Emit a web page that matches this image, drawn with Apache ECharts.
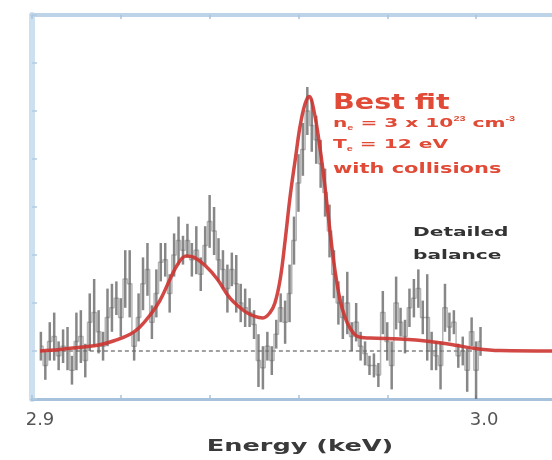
<!DOCTYPE html>
<html>
<head>
<meta charset="utf-8">
<script src="https://cdn.jsdelivr.net/npm/echarts@6/dist/echarts.min.js"></script>
<style>html,body{margin:0;padding:0;background:#fff;}#c{width:552px;height:460px;}</style>
</head>
<body>
<div id="c"></div>
<script>
// ---- data ----
const energy = [
  2.902,2.903,2.904,2.905,2.906,2.907,2.908,2.909,2.910,2.911,
  2.912,2.913,2.914,2.915,2.916,2.917,2.918,2.919,2.920,2.921,
  2.922,2.923,2.924,2.925,2.926,2.927,2.928,2.929,2.930,2.931,
  2.932,2.933,2.934,2.935,2.936,2.937,2.938,2.939,2.940,2.941,
  2.942,2.943,2.944,2.945,2.946,2.947,2.948,2.949,2.950,2.951,
  2.952,2.953,2.954,2.955,2.956,2.957,2.958,2.959,2.960,2.961,
  2.962,2.963,2.964,2.965,2.966,2.967,2.968,2.969,2.970,2.971,
  2.972,2.973,2.974,2.975,2.976,2.977,2.978,2.979,2.980,2.981,
  2.982,2.983,2.984,2.985,2.986,2.987,2.988,2.989,2.990,2.991,
  2.992,2.993,2.994,2.995,2.996,2.997,2.998,2.999,3.000,3.001
];
const counts = [
  0.1,-0.3,0.2,0.3,-0.1,0.1,0.05,-0.4,0.2,0.3,
  -0.2,0.6,0.8,0.4,0.1,0.7,0.9,1.1,0.7,1.5,
  1.4,0.1,0.7,1.4,1.7,0.6,1.2,1.85,1.9,1.2,
  2.0,2.3,2.1,2.3,1.9,2.1,1.6,2.2,2.7,2.5,
  1.9,1.7,1.3,1.7,1.4,1.0,0.9,0.8,0.55,-0.2,
  -0.35,0.1,-0.2,0.35,0.9,0.6,1.2,2.3,3.5,4.2,
  5.0,4.7,4.4,3.9,3.3,2.5,1.6,1.0,0.7,1.0,
  0.3,0.6,0.1,-0.05,-0.3,-0.3,-0.5,0.8,0.2,-0.3,
  1.0,0.6,0.3,0.9,1.1,1.3,0.7,0.7,0.0,-0.1,
  -0.3,0.9,0.5,0.6,-0.1,0.0,-0.4,0.4,-0.4,0.2
];
const errors = [
  0.3,0.3,0.4,0.5,0.3,0.35,0.45,0.3,0.6,0.55,
  0.35,0.6,0.7,0.45,0.3,0.6,0.5,0.35,0.4,0.6,
  0.7,0.3,0.5,0.55,0.55,0.35,0.5,0.4,0.35,0.4,
  0.45,0.5,0.3,0.35,0.35,0.5,0.35,0.4,0.55,0.5,
  0.45,0.4,0.5,0.35,0.6,0.4,0.4,0.3,0.3,0.55,
  0.45,0.3,0.3,0.3,0.3,0.45,0.6,0.5,0.6,0.55,
  0.5,0.55,0.5,0.5,0.5,0.55,0.5,0.45,0.45,0.65,
  0.3,0.4,0.3,0.25,0.2,0.25,0.25,0.45,0.4,0.5,
  0.55,0.3,0.35,0.4,0.4,0.4,0.35,0.9,0.4,0.3,
  0.5,0.5,0.3,0.25,0.25,0.3,0.45,0.3,0.6,0.3
];
const fitEnergy = [
  2.9018,2.9063,2.9108,2.9153,2.9187,2.9221,2.9243,2.9266,2.9288,2.9311,
  2.9329,2.9347,2.9365,2.9390,2.9417,2.9446,2.9480,2.9502,2.9520,2.9536,
  2.9547,2.9559,2.9570,2.9581,2.9593,2.9604,2.9615,2.9624,2.9635,2.9649,
  2.9660,2.9671,2.9682,2.9694,2.9705,2.9716,2.9734,2.9761,2.9829,2.9896,
  2.9953,3.0000,3.0054,3.0180
];
const fitValue = [
  0.0,0.03,0.08,0.13,0.22,0.35,0.5,0.75,1.05,1.5,
  1.82,1.98,1.95,1.78,1.5,1.1,0.82,0.72,0.69,0.8,
  1.0,1.5,2.3,3.2,4.0,4.7,5.15,5.3,5.0,4.2,
  3.4,2.5,1.7,1.05,0.7,0.48,0.3,0.27,0.25,0.2,
  0.12,0.05,0.01,0.0
];
const baselineEnergy = [2.902, 3.0];
const baselineValue = [0, 0];
const xTickValues = [2.9, 3.0];
const xTickLabels = ['2.9', '3.0'];
const xAxisTitle = 'Energy (keV)';
const fitTitle = 'Best fit';
const fitLines = ['{t|n}{sub|e}{t| = 3 x 10}{sup|23}{t| cm}{sup|-3}', '{t|T}{sub|e}{t| = 12 eV}', '{t|with collisions}'];
const otherLabel = ['Detailed', 'balance'];

// ---- chart ----
const chart = echarts.init(document.getElementById('c'), null, {renderer: 'canvas'});
const zip = (a, b) => a.map((v, i) => [v, b[i]]);
const barData = energy.map((e, i) => [e, counts[i] - errors[i], counts[i] + errors[i]]);
const axisBlue = '#bdd3e8';
const red = '#e04a36';

const baseX = {
  type: 'value', min: 2.9, max: 3.018, interval: 0.02,
  splitLine: {show: false},
  axisTick: {show: true, inside: true, length: 4, lineStyle: {color: '#a9c3dc', width: 1.5}}
};

chart.setOption({
  animation: false,
  backgroundColor: '#fff',
  grid: {left: 32, right: -4, top: 15, bottom: 61, outerBoundsMode: 'none', containLabel: false},
  xAxis: [
    Object.assign({}, baseX, {
      position: 'bottom',
      axisLine: {show: true, onZero: false, lineStyle: {color: '#a6c2dc', width: 3}},
      axisLabel: {
        showMaxLabel: false, margin: 12, padding: [0, 0, 0, 16],
        color: '#555', fontSize: 18, fontFamily: 'DejaVu Sans',
        formatter: v => {
          for (let i = 0; i < xTickValues.length; i++) if (Math.abs(v - xTickValues[i]) < 1e-6) return xTickLabels[i];
          return '';
        }
      }
    }),
    Object.assign({}, baseX, {
      position: 'top',
      axisLine: {show: true, onZero: false, lineStyle: {color: axisBlue, width: 4}},
      axisLabel: {show: false}
    })
  ],
  yAxis: {
    type: 'value', min: -1, max: 7, interval: 1,
    axisLine: {show: true, onZero: false, lineStyle: {color: '#cde0f0', width: 6}},
    axisTick: {show: true, inside: true, length: 5, lineStyle: {color: '#b3cbe0', width: 1.5}},
    axisLabel: {show: false},
    splitLine: {show: false}
  },
  series: [
    {
      type: 'line', data: zip(baselineEnergy, baselineValue), symbol: 'none', silent: true,
      lineStyle: {color: '#444', width: 1, type: [4, 3]}, z: 1
    },
    {
      type: 'line', data: zip(energy, counts), step: 'middle', symbol: 'none', silent: true,
      lineStyle: {color: 'rgba(150,150,150,0.7)', width: 1.5}, z: 2
    },
    {
      type: 'custom', data: barData, z: 3,
      renderItem: (params, api) => {
        const lo = api.coord([api.value(0), api.value(1)]);
        const hi = api.coord([api.value(0), api.value(2)]);
        return {
          type: 'line',
          shape: {x1: lo[0], y1: lo[1], x2: hi[0], y2: hi[1]},
          style: {stroke: 'rgba(105,105,105,0.8)', lineWidth: 2.5}
        };
      },
      encode: {x: 0, y: [1, 2]}
    },
    {
      type: 'line', data: zip(fitEnergy, fitValue), smooth: 0.4, symbol: 'none', silent: true,
      lineStyle: {color: 'rgba(205,52,48,0.9)', width: 3.5}, z: 5
    }
  ],
  graphic: [
    {type: 'text', x: 333, y: 92, scaleX: 1.3, z: 10,
     style: {text: fitTitle, fill: red, font: 'bold 22px "DejaVu Sans"'}},
    {type: 'text', x: 333, y: 116, scaleX: 1.55, z: 10,
     style: {text: fitLines[0], fill: red, font: 'bold 13px "DejaVu Sans"',
       rich: {t: {fontSize: 13, fontWeight: 'bold', fill: red, fontFamily: 'DejaVu Sans', lineHeight: 16},
              sub: {fontSize: 7, fontWeight: 'bold', fill: red, verticalAlign: 'bottom', lineHeight: 16},
              sup: {fontSize: 7, fontWeight: 'bold', fill: red, verticalAlign: 'top', lineHeight: 16}}}},
    {type: 'text', x: 333, y: 137, scaleX: 1.55, z: 10,
     style: {text: fitLines[1], fill: red, font: 'bold 13px "DejaVu Sans"',
       rich: {t: {fontSize: 13, fontWeight: 'bold', fill: red, fontFamily: 'DejaVu Sans', lineHeight: 16},
              sub: {fontSize: 7, fontWeight: 'bold', fill: red, verticalAlign: 'bottom', lineHeight: 16}}}},
    {type: 'text', x: 333, y: 160, scaleX: 1.55, z: 10,
     style: {text: fitLines[2], fill: red, font: 'bold 13px "DejaVu Sans"',
       rich: {t: {fontSize: 13.5, fontWeight: 'bold', fill: red, fontFamily: 'DejaVu Sans', lineHeight: 18}}}},
    {type: 'text', x: 413, y: 226, scaleX: 1.55, z: 10,
     style: {text: otherLabel[0], fill: '#333', font: 'bold 13px "DejaVu Sans"'}},
    {type: 'text', x: 413, y: 249, scaleX: 1.55, z: 10,
     style: {text: otherLabel[1], fill: '#333', font: 'bold 13px "DejaVu Sans"'}},
    {type: 'text', x: 300, y: 447, scaleX: 1.6, z: 10,
     style: {text: xAxisTitle, fill: '#3a3a3a', font: 'bold 16px "DejaVu Sans"', align: 'center', verticalAlign: 'middle'}}
  ]
});
</script>
</body>
</html>
